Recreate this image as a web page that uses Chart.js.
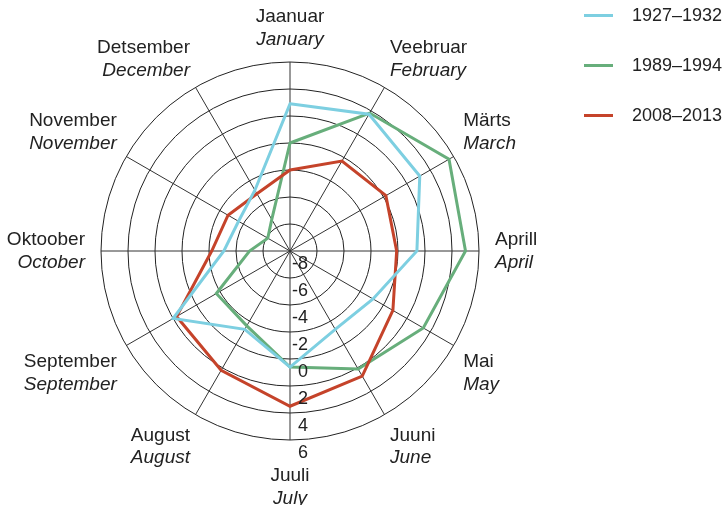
<!DOCTYPE html>
<html lang="et">

<head>
    <meta charset="UTF-8" />
    <title>Kuu keskmised - radar</title>
    <script src="https://cdn.jsdelivr.net/npm/chart.js@4.4.1/dist/chart.umd.min.js"></script>
    <style>
        body {
            margin: 0;
            background: #fff;
            font-family: "Liberation Sans", Arial, sans-serif;
            color: #222;
        }

        .wrap {
            position: relative;
            width: 727px;
            height: 505px;
        }

        /* html legend, built from the series arrays */
        #legend {
            position: absolute;
            left: 584px;
            top: 4px;
            margin: 0;
            padding: 0;
            list-style: none;
        }

        #legend li {
            display: flex;
            align-items: center;
            height: 22px;
            margin-bottom: 28px;
            font-size: 18px;
        }

        #legend .swatch {
            display: inline-block;
            width: 29px;
            height: 3px;
            margin-right: 19px;
        }
    </style>
</head>

<body>
    <div class="wrap">
        <canvas id="radarChart" width="727" height="505"></canvas>
        <ul id="legend"></ul>
    </div>

    <script>
        // months, estonian + english
        const monthsEt = ["Jaanuar", "Veebruar", "Märts", "Aprill", "Mai", "Juuni",
            "Juuli", "August", "September", "Oktoober", "November", "Detsember"];
        const monthsEn = ["January", "February", "March", "April", "May", "June",
            "July", "August", "September", "October", "November", "December"];

        // radial tick labels
        const tickValues = [-8, -6, -4, -2, 0, 2, 4, 6];

        // series
        const seriesNames = ["1927–1932", "1989–1994", "2008–2013"];
        const seriesColors = ["#7dcfe1", "#67ae7b", "#c5432a"];
        const values1927 = [2.9, 3.7, 3.1, 1.4, -0.9, -1.3, 0.6, -1.3, 2.0, -3.1, -3.6, -2.8];
        const values1989 = [0.0, 3.8, 5.6, 5.0, 3.4, 2.1, 0.6, -1.6, -1.7, -5.0, -6.1, -5.3];
        const values2008 = [-2.0, -0.3, 0.2, -0.1, 0.8, 2.7, 3.5, 2.2, 1.7, -2.2, -2.7, -3.1];

        const FONT = '"Liberation Sans", Arial, sans-serif';

        // two line point labels (upright + italic) and tick numbers down the July spoke
        const labelPlugin = {
            id: "labelPlugin",
            afterDraw(chart) {
                const scale = chart.scales.r;
                const ctx = chart.ctx;
                const lineH = 22.5;
                ctx.save();
                ctx.fillStyle = "#222";
                ctx.textBaseline = "middle";

                // tick labels sit just outside their ring
                ctx.font = "18px " + FONT;
                ctx.textAlign = "right";
                tickValues.forEach((v) => {
                    const d = scale.getDistanceFromCenterForValue(v);
                    ctx.fillText(String(v), scale.xCenter + 18, scale.yCenter + d + 13);
                });

                const n = monthsEt.length;
                const outer = scale.getDistanceFromCenterForValue(tickValues[tickValues.length - 1]);
                for (let i = 0; i < n; i++) {
                    const deg = Math.round(i * 360 / n);
                    let gap = 11;
                    if (deg === 180) gap = 25; // pushed past the tick numbers
                    if (deg === 90 || deg === 270) gap = 16;
                    const p = scale.getPointPosition(i, outer + gap);
                    const h = lineH * 2;
                    let align = "center";
                    if (deg !== 0 && deg !== 180) align = deg < 180 ? "left" : "right";
                    let top = p.y;
                    if (deg === 90 || deg === 270) top -= h / 2;
                    else if (deg === 0) top -= h;
                    else if (deg > 270 || deg < 90) top -= h - 4;
                    ctx.textAlign = align;
                    ctx.font = "19px " + FONT;
                    ctx.fillText(monthsEt[i], p.x, top + lineH * 0.5);
                    ctx.font = "italic 19px " + FONT;
                    ctx.fillText(monthsEn[i], p.x, top + lineH * 1.5);
                }
                ctx.restore();
            }
        };

        const seriesValues = [values1927, values1989, values2008];
        const drawOrder = [0, 2, 1]; // blue on top, then red, green underneath

        const ctx = document.getElementById("radarChart");
        const myChart = new Chart(ctx, {
            type: "radar",
            data: {
                labels: monthsEt,
                datasets: seriesNames.map((name, i) => ({
                    label: name,
                    data: seriesValues[i],
                    borderColor: seriesColors[i],
                    backgroundColor: seriesColors[i],
                    borderWidth: 3,
                    pointRadius: 0,
                    pointHoverRadius: 0,
                    fill: false,
                    tension: 0,
                    order: drawOrder[i],
                })),
            },
            options: {
                responsive: false,
                animation: false,
                layout: {
                    padding: { left: 101, right: 248, top: 62, bottom: 65 }
                },
                plugins: {
                    legend: { display: false },
                    tooltip: { enabled: false }
                },
                scales: {
                    r: {
                        min: -8,
                        max: 6,
                        ticks: { stepSize: 2, display: false },
                        pointLabels: { display: false },
                        grid: { circular: true, color: "#222", lineWidth: 1 },
                        angleLines: { color: "#333", lineWidth: 1 }
                    }
                }
            },
            plugins: [labelPlugin]
        });

        // legend
        const legend = document.getElementById("legend");
        seriesNames.forEach((name, i) => {
            const li = document.createElement("li");
            const sw = document.createElement("span");
            sw.className = "swatch";
            sw.style.background = seriesColors[i];
            li.appendChild(sw);
            li.appendChild(document.createTextNode(name));
            legend.appendChild(li);
        });
    </script>
</body>

</html>
